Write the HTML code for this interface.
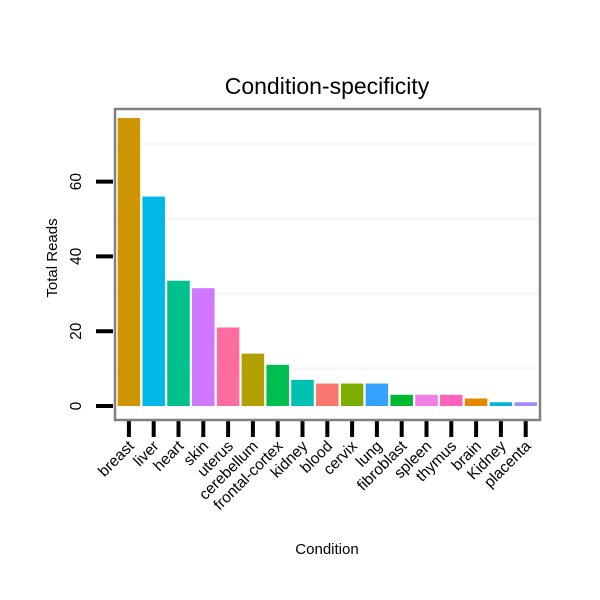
<!DOCTYPE html>
<html><head><meta charset="utf-8"><style>
body{margin:0;background:#fff}
svg{display:block;font-family:"Liberation Sans",sans-serif}
</style></head><body>
<svg id="chart" width="600" height="600">
<text x="327" y="94" font-size="23" text-anchor="middle">Condition-specificity</text>
<text x="327" y="554" font-size="15" text-anchor="middle">Condition</text>
<text transform="translate(57,258) rotate(-90)" font-size="15" text-anchor="middle">Total Reads</text>
<g id="grid"></g><g id="bars"></g><g id="axes"></g>
<rect x="115" y="109" width="425" height="311" fill="none" stroke="#808080" stroke-width="2.5"/>
</svg>
<script>
const categories=["breast","liver","heart","skin","uterus","cerebellum","frontal-cortex","kidney","blood","cervix","lung","fibroblast","spleen","thymus","brain","Kidney","placenta"];
const values=[77,56,33.5,31.5,21,14,11,7,6,6,6,3,3,3,2,1,1];
const colors=["#CD9600","#00B8E7","#00C08B","#D078FF","#FF6C9E","#B29F00","#00BD4F","#00C1B0","#F8766D","#7CAE00","#35A2FF","#00B933","#F07FE8","#FF62BC","#E58700","#00B5D8","#A58AFF"];
const yTicks=[0,20,40,60];
const yMinor=[10,30,50,70];
const ns="http://www.w3.org/2000/svg";
const y0=406,ppu=3.74,x0=116.5,band=24.8,bw=22.5;
const y=v=>y0-v*ppu;
const xc=i=>x0+band*i+band/2;
const grid=document.getElementById('grid'),bars=document.getElementById('bars'),axes=document.getElementById('axes');
yMinor.forEach(v=>{const l=document.createElementNS(ns,'line');


l.setAttribute('x1',116);l.setAttribute('x2',539);l.setAttribute('y1',y(v));l.setAttribute('y2',y(v));l.setAttribute('stroke','#f7f7f7');l.setAttribute('stroke-width',3);grid.appendChild(l);});
values.forEach((v,i)=>{const r=document.createElementNS(ns,'rect');


r.setAttribute('x',xc(i)-bw/2);r.setAttribute('width',bw);r.setAttribute('y',y(v));r.setAttribute('height',v*ppu);r.setAttribute('fill',colors[i]);bars.appendChild(r);
const t=document.createElementNS(ns,'line');


t.setAttribute('x1',xc(i));t.setAttribute('x2',xc(i));t.setAttribute('y1',421);t.setAttribute('y2',437);t.setAttribute('stroke','#000');t.setAttribute('stroke-width',4);axes.appendChild(t);
const tx=document.createElementNS(ns,'text');


tx.setAttribute('transform','translate('+(xc(i)+6)+',447) rotate(-45)');tx.setAttribute('text-anchor','end');tx.setAttribute('font-size','15.5');tx.textContent=categories[i];axes.appendChild(tx);});
yTicks.forEach(v=>{const t=document.createElementNS(ns,'line');


t.setAttribute('x1',96);t.setAttribute('x2',113);t.setAttribute('y1',y(v));t.setAttribute('y2',y(v));t.setAttribute('stroke','#000');t.setAttribute('stroke-width',4);axes.appendChild(t);
const tx=document.createElementNS(ns,'text');


tx.setAttribute('transform','translate(81,'+y(v)+') rotate(-90)');tx.setAttribute('text-anchor','middle');tx.setAttribute('font-size','15.5');tx.textContent=v;axes.appendChild(tx);});
</script>
</body></html>
